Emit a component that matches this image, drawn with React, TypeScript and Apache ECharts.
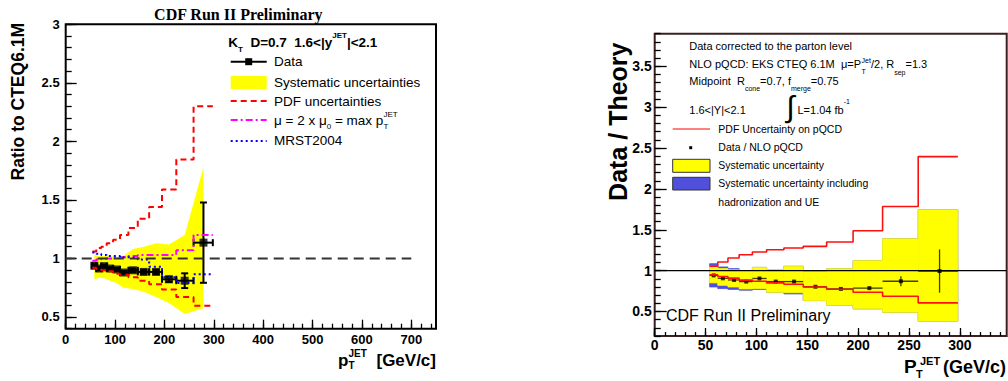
import React, { useEffect, useRef } from "react";
import * as echarts from "echarts";

const FONT = "Liberation Sans";

// Shared pT bin edges (GeV/c)
const binEdges = [54, 62, 72, 83, 96, 110, 127, 146, 169, 195, 224, 259, 298];

// ---------- Left panel: ratio to CTEQ6.1M ----------
const leftDataX = [58, 68, 78, 90, 103, 117, 136, 158, 183, 209, 241, 279];
const leftDataY = [0.938, 0.914, 0.934, 0.914, 0.906, 0.88, 0.899, 0.885, 0.885, 0.822, 0.81, 1.135];
const leftDataErr = [0.012, 0.012, 0.012, 0.012, 0.012, 0.013, 0.015, 0.015, 0.018, 0.022, 0.063, 0.343];
const leftSysUp = [1.03, 1.02, 1.02, 1.02, 1.01, 1.02, 1.08, 1.1, 1.13, 1.12, 1.2, 1.78];
const leftSysLo = [0.82, 0.835, 0.83, 0.81, 0.79, 0.75, 0.74, 0.715, 0.67, 0.62, 0.525, 0.575];
const leftPdfUp = [1.06, 1.09, 1.1, 1.13, 1.16, 1.2, 1.26, 1.34, 1.44, 1.59, 1.845, 2.3];
const leftPdfLo = [0.92, 0.91, 0.9, 0.89, 0.87, 0.86, 0.84, 0.81, 0.78, 0.735, 0.67, 0.595];
const leftScale = [0.98, 0.99, 1.0, 1.0, 1.01, 1.01, 1.02, 1.03, 1.03, 1.03, 1.07, 1.2];
const leftMrst = [1.05, 1.04, 1.03, 1.02, 1.02, 1.01, 1.005, 0.99, 0.93, 0.84, 0.79, 0.865];
const leftUnity = [[0, 1], [700, 1]];
const leftXTicks = [0, 100, 200, 300, 400, 500, 600, 700];
const leftYTicks = [0.5, 1, 1.5, 2, 2.5, 3];

// ---------- Right panel: Data / Theory ----------
const rightDataX = [58, 67, 78, 90, 103, 119, 137, 158, 183, 211, 242, 280];
const rightDataY = [0.942, 0.906, 0.886, 0.866, 0.904, 0.866, 0.866, 0.803, 0.776, 0.786, 0.87, 0.995];
const rightDataErr = [0.006, 0.006, 0.006, 0.006, 0.007, 0.007, 0.008, 0.008, 0.01, 0.012, 0.06, 0.265];
const rightPdfUp = [1.053, 1.106, 1.155, 1.195, 1.228, 1.256, 1.277, 1.297, 1.35, 1.488, 1.785, 2.396];
const rightPdfLo = [0.948, 0.928, 0.908, 0.884, 0.87, 0.85, 0.833, 0.8, 0.772, 0.735, 0.687, 0.605];
const rightSysUp = [1.053, 1.025, 1.01, 1.0, 1.04, 1.012, 1.053, 0.985, 1.024, 1.122, 1.39, 1.745];
const rightSysLo = [0.85, 0.82, 0.8, 0.776, 0.78, 0.735, 0.73, 0.634, 0.577, 0.532, 0.49, 0.381];
const rightHadUp = [1.085, 1.045, 1.025, 1.0, 1.04, 1.012, 1.053, 0.985, 1.024, 1.122, 1.39, 1.745];
const rightHadLo = [0.8, 0.78, 0.77, 0.76, 0.77, 0.735, 0.715, 0.634, 0.577, 0.532, 0.49, 0.381];
const rightUnity = [[0, 1], [346, 1]];
const rightXTicks = [0, 50, 100, 150, 200, 250, 300];
const rightYTicks = [0.5, 1, 1.5, 2, 2.5, 3, 3.5];

function minorTicks(min: number, max: number, step: number) {
  const out: number[] = [];
  for (let v = min; v <= max + 1e-9; v += step) out.push(Math.round(v * 1000) / 1000);
  return out;
}

function stepData(vals: number[]) {
  return binEdges.map((e, i) => [e, vals[Math.min(i, vals.length - 1)]]);
}

function makeAxis(
  dim: "x" | "y",
  gridIndex: number,
  min: number,
  max: number,
  ticks: number[],
  tickLen: number,
  labels: boolean,
  fontSize: number,
  margin: number
) {
  return {
    type: "value",
    gridIndex,
    min,
    max,
    position: dim === "x" ? "bottom" : "left",
    axisLine: { show: false },
    splitLine: { show: false },
    axisTick: {
      show: true,
      inside: true,
      length: tickLen,
      customValues: ticks,
      lineStyle: { color: "#000", width: 1.3 },
    },
    axisLabel: labels
      ? {
          show: true,
          customValues: ticks,
          margin,
          color: "#000",
          fontSize,
          fontWeight: "bold",
          fontFamily: FONT,
        }
      : { show: false },
  };
}

function boxRender(params: any, api: any) {
  const p0 = api.coord([api.value(0), api.value(3)]);
  const p1 = api.coord([api.value(1), api.value(2)]);
  const c = api.visual("color");
  return {
    type: "rect",
    shape: { x: p0[0], y: p0[1], width: p1[0] - p0[0], height: p1[1] - p0[1] },
    style: { fill: c, stroke: c, lineWidth: 0.8 },
  };
}

function errRender(caps: boolean, color: string, width: number) {
  return (params: any, api: any) => {
    const x = api.value(0);
    const y = api.value(1);
    const x0 = api.value(2);
    const x1 = api.value(3);
    const e = api.value(4);
    const pl = api.coord([x0, y]);
    const pr = api.coord([x1, y]);
    const pt = api.coord([x, y + e]);
    const pb = api.coord([x, y - e]);
    const st = { stroke: color, lineWidth: width };
    const ch: any[] = [
      { type: "line", shape: { x1: pl[0], y1: pl[1], x2: pr[0], y2: pr[1] }, style: st },
      { type: "line", shape: { x1: pt[0], y1: pt[1], x2: pb[0], y2: pb[1] }, style: st },
    ];
    if (caps) {
      const c = 3.5;
      ch.push(
        { type: "line", shape: { x1: pl[0], y1: pl[1] - c, x2: pl[0], y2: pl[1] + c }, style: st },
        { type: "line", shape: { x1: pr[0], y1: pr[1] - c, x2: pr[0], y2: pr[1] + c }, style: st },
        { type: "line", shape: { x1: pt[0] - c, y1: pt[1], x2: pt[0] + c, y2: pt[1] }, style: st },
        { type: "line", shape: { x1: pb[0] - c, y1: pb[1], x2: pb[0] + c, y2: pb[1] }, style: st }
      );
    }
    return { type: "group", children: ch };
  };
}

function txt(x: number, y: number, text: string, size: number, opts: any = {}) {
  return {
    type: "text",
    x,
    y,
    z: 20,
    rotation: opts.rotation || 0,
    style: {
      text,
      fill: "#000",
      fontSize: size,
      fontWeight: opts.bold ? "bold" : "normal",
      fontFamily: opts.family || FONT,
      align: opts.align || "left",
      verticalAlign: "middle",
      rich: opts.rich,
    },
  };
}

function rich(text: string, x: number, y: number, main: number, small: number, bold: boolean, lh: number, subLh: number, supLh: number) {
  const w = bold ? "bold" : "normal";
  return txt(x, y, text, main, {
    bold,
    rich: {
      n: { fontSize: main, fontWeight: w, fontFamily: FONT, lineHeight: lh, fill: "#000" },
      sub: { fontSize: small, fontWeight: w, fontFamily: FONT, lineHeight: subLh, verticalAlign: "bottom", fill: "#000" },
      sup: { fontSize: small, fontWeight: w, fontFamily: FONT, lineHeight: supLh, verticalAlign: "top", fill: "#000" },
    },
  });
}

function hline(x1: number, x2: number, y: number, color: string, width: number, dash?: number[]) {
  return {
    type: "line",
    z: 20,
    shape: { x1, y1: y, x2, y2: y },
    style: { stroke: color, lineWidth: width, lineDash: dash },
  };
}

function box(x: number, y: number, w: number, h: number, fill: string, stroke?: string) {
  return {
    type: "rect",
    z: 20,
    shape: { x, y, width: w, height: h },
    style: { fill, stroke: stroke || null, lineWidth: stroke ? 1 : 0 },
  };
}

export default function App() {
  const ref = useRef<HTMLDivElement>(null);

  useEffect(() => {
    if (!ref.current) return;
    const chart = echarts.init(ref.current, undefined, { renderer: "svg" });

    const graphics: any[] = [
      // ----- left panel texts -----
      txt(238.3, 14, "CDF Run II Preliminary", 16, { bold: true, align: "center", family: "Liberation Serif" }),
      txt(17.8, 101.7, "Ratio to CTEQ6.1M", 17.5, { bold: true, align: "center", rotation: Math.PI / 2 }),
      txt(338, 360.5, "p", 17, { bold: true }),
      txt(348.5, 365.5, "T", 10, { bold: true }),
      txt(348.5, 353.5, "JET", 10, { bold: true }),
      txt(436, 360, "[GeV/c]", 17, { bold: true, align: "right" }),
      rich("{n|K}{sub|T}{n|  D=0.7  1.6<|y}{sup|JET}{n||<2.1}", 228.3, 42.7, 13.5, 8, true, 22, 14, 8),
      hline(230.7, 266.7, 61.7, "#000", 2),
      box(245.2, 58.2, 7, 7, "#000"),
      txt(274, 61.7, "Data", 13.5),
      box(230.7, 76, 36, 13, "#ffff00"),
      txt(274, 82.6, "Systematic uncertainties", 13.5),
      hline(230.7, 266.7, 101, "#ff0000", 2, [6, 4]),
      txt(274, 101, "PDF uncertainties", 13.5),
      hline(230.7, 266.7, 120, "#ff00ff", 2, [7, 3, 2, 3]),
      rich("{n|μ = 2 x μ}{sub|0}{n| = max p}", 274, 120.5, 13.5, 8, false, 20, 10, 8),
      txt(383.5, 126, "T", 8),
      txt(383.5, 114.5, "JET", 8),
      hline(230.7, 266.7, 141, "#0000ff", 2, [2, 3]),
      txt(274, 140.5, "MRST2004", 13.5),

      // ----- right panel texts -----
      txt(618.3, 121.7, "Data / Theory", 25, { bold: true, align: "center", rotation: Math.PI / 2 }),
      txt(904, 366, "P", 19, { bold: true }),
      txt(916, 374, "T", 11, { bold: true }),
      txt(920, 361, "JET", 11, { bold: true }),
      txt(1006, 367, "(GeV/c)", 18, { bold: true, align: "right" }),
      txt(689.3, 46, "Data corrected to the parton level", 11),
      txt(689.3, 64.3, "NLO pQCD: EKS CTEQ 6.1M  μ=P", 11),
      txt(861.5, 60, "Jet", 7),
      txt(861.5, 71, "T", 7),
      rich("{n|/2, R}{sub|sep}{n|=1.3}", 871, 64.3, 11, 7, false, 24, 10, 10),
      rich("{n|Midpoint  R}{sub|cone}{n|=0.7, f}{sub|merge}{n|=0.75}", 689.3, 80.7, 11, 7, false, 22, 10, 10),
      txt(689.3, 110, "1.6<|Y|<2.1", 11),
      txt(794.5, 106, "∫", 30, { align: "right" }),
      rich("{n|L=1.04 fb}{sup|-1}", 797.5, 110, 11, 7, false, 24, 10, 16),
      hline(672.7, 710, 129, "#ff0000", 1),
      txt(718.3, 128.5, "PDF Uncertainty on pQCD", 10.5),
      box(689.2, 146.2, 3, 3, "#000"),
      txt(718.3, 147.3, "Data / NLO pQCD", 10.5),
      box(672.7, 159.3, 37.3, 13, "#ffff00", "#333"),
      txt(718.3, 164.6, "Systematic uncertainty", 10.5),
      box(672.7, 177.3, 37.3, 12.7, "#5050dc", "#333"),
      txt(718.3, 182.7, "Systematic uncertainty including", 10.5),
      txt(718.3, 202, "hadronization and UE", 10.5),
      txt(666, 315, "CDF Run II Preliminary", 16),
    ];

    const option: any = {
      animation: false,
      backgroundColor: "#fff",
      grid: [
        {
          left: 65.7,
          top: 24.3,
          width: 370.3,
          height: 304.4,
          show: true,
          borderColor: "#000",
          borderWidth: 2,
          backgroundColor: "transparent",
          outerBoundsMode: "none",
        },
        {
          left: 654.7,
          top: 33.7,
          width: 352,
          height: 302.3,
          show: true,
          borderColor: "#3a2020",
          borderWidth: 2,
          backgroundColor: "transparent",
          outerBoundsMode: "none",
        },
      ],
      xAxis: [
        makeAxis("x", 0, 0, 750, leftXTicks, 9, true, 13, 4),
        makeAxis("x", 0, 0, 750, minorTicks(0, 740, 20), 5, false, 13, 4),
        makeAxis("x", 1, 0, 346, rightXTicks, 8, true, 14, 2),
        makeAxis("x", 1, 0, 346, minorTicks(0, 340, 10), 4, false, 14, 2),
      ],
      yAxis: [
        makeAxis("y", 0, 0.4, 3.0, leftYTicks, 11, true, 13, 6),
        makeAxis("y", 0, 0.4, 3.0, minorTicks(0.4, 3.0, 0.1), 6, false, 13, 6),
        makeAxis("y", 1, 0.2, 3.9, rightYTicks, 12, true, 14, 3),
        makeAxis("y", 1, 0.2, 3.9, minorTicks(0.2, 3.9, 0.1), 6, false, 14, 3),
      ],
      series: [
        // ----- left panel -----
        {
          type: "custom",
          name: "Systematic uncertainties",
          xAxisIndex: 0,
          yAxisIndex: 0,
          data: [[leftDataX[0], leftDataY[0]]],
          renderItem: (params: any, api: any) => {
            const pts: number[][] = [];
            leftDataX.forEach((x, i) => pts.push(api.coord([x, leftSysUp[i]])));
            for (let i = leftDataX.length - 1; i >= 0; i--) pts.push(api.coord([leftDataX[i], leftSysLo[i]]));
            return { type: "polygon", shape: { points: pts }, style: { fill: "#ffff00" } };
          },
        },
        {
          type: "line",
          name: "PDF up",
          xAxisIndex: 0,
          yAxisIndex: 0,
          step: "end",
          symbol: "none",
          data: stepData(leftPdfUp),
          lineStyle: { color: "#ff0000", width: 2, type: [6, 4] },
        },
        {
          type: "line",
          name: "PDF down",
          xAxisIndex: 0,
          yAxisIndex: 0,
          step: "end",
          symbol: "none",
          data: stepData(leftPdfLo),
          lineStyle: { color: "#ff0000", width: 2, type: [6, 4] },
        },
        {
          type: "line",
          name: "scale",
          xAxisIndex: 0,
          yAxisIndex: 0,
          step: "end",
          symbol: "none",
          data: stepData(leftScale),
          lineStyle: { color: "#ff00ff", width: 2, type: [7, 3, 2, 3] },
        },
        {
          type: "line",
          name: "MRST2004",
          xAxisIndex: 0,
          yAxisIndex: 0,
          step: "end",
          symbol: "none",
          data: stepData(leftMrst),
          lineStyle: { color: "#0000ff", width: 2, type: [2, 3] },
        },
        {
          type: "line",
          name: "unity",
          xAxisIndex: 0,
          yAxisIndex: 0,
          symbol: "none",
          data: leftUnity,
          lineStyle: { color: "#333", width: 2, type: [10, 6] },
        },
        {
          type: "custom",
          name: "Data errors",
          xAxisIndex: 0,
          yAxisIndex: 0,
          data: leftDataX.map((x, i) => [x, leftDataY[i], binEdges[i], binEdges[i + 1], leftDataErr[i]]),
          renderItem: errRender(true, "#000", 2),
        },
        {
          type: "scatter",
          name: "Data",
          xAxisIndex: 0,
          yAxisIndex: 0,
          symbol: "rect",
          symbolSize: 8,
          itemStyle: { color: "#000" },
          data: leftDataX.map((x, i) => [x, leftDataY[i]]),
        },
        // ----- right panel -----
        {
          type: "custom",
          name: "Syst incl. hadronization",
          xAxisIndex: 2,
          yAxisIndex: 2,
          itemStyle: { color: "#5050dc" },
          data: rightHadUp.map((u, i) => [binEdges[i], binEdges[i + 1], rightHadLo[i], u]),
          renderItem: boxRender,
        },
        {
          type: "custom",
          name: "Systematic uncertainty",
          xAxisIndex: 2,
          yAxisIndex: 2,
          itemStyle: { color: "#ffff00" },
          data: rightSysUp.map((u, i) => [binEdges[i], binEdges[i + 1], rightSysLo[i], u]),
          renderItem: boxRender,
        },
        {
          type: "line",
          name: "PDF up R",
          xAxisIndex: 2,
          yAxisIndex: 2,
          step: "end",
          symbol: "none",
          data: stepData(rightPdfUp),
          lineStyle: { color: "#ff1010", width: 1.6 },
        },
        {
          type: "line",
          name: "PDF down R",
          xAxisIndex: 2,
          yAxisIndex: 2,
          step: "end",
          symbol: "none",
          data: stepData(rightPdfLo),
          lineStyle: { color: "#ff1010", width: 1.6 },
        },
        {
          type: "line",
          name: "unity R",
          xAxisIndex: 2,
          yAxisIndex: 2,
          symbol: "none",
          data: rightUnity,
          lineStyle: { color: "#000", width: 1.3 },
        },
        {
          type: "custom",
          name: "Data errors R",
          xAxisIndex: 2,
          yAxisIndex: 2,
          data: rightDataX.map((x, i) => [x, rightDataY[i], binEdges[i], binEdges[i + 1], rightDataErr[i]]),
          renderItem: errRender(false, "rgba(0,0,0,0.75)", 1.3),
        },
        {
          type: "scatter",
          name: "Data / NLO pQCD",
          xAxisIndex: 2,
          yAxisIndex: 2,
          symbol: "rect",
          symbolSize: 4,
          itemStyle: { color: "#000" },
          data: rightDataX.map((x, i) => [x, rightDataY[i]]),
        },
      ],
      graphic: graphics,
    };

    chart.setOption(option);
    return () => chart.dispose();
  }, []);

  return (
    <div
      ref={ref}
      style={{ position: "absolute", left: 0, top: 0, width: 1008, height: 381, background: "#fff" }}
    />
  );
}
